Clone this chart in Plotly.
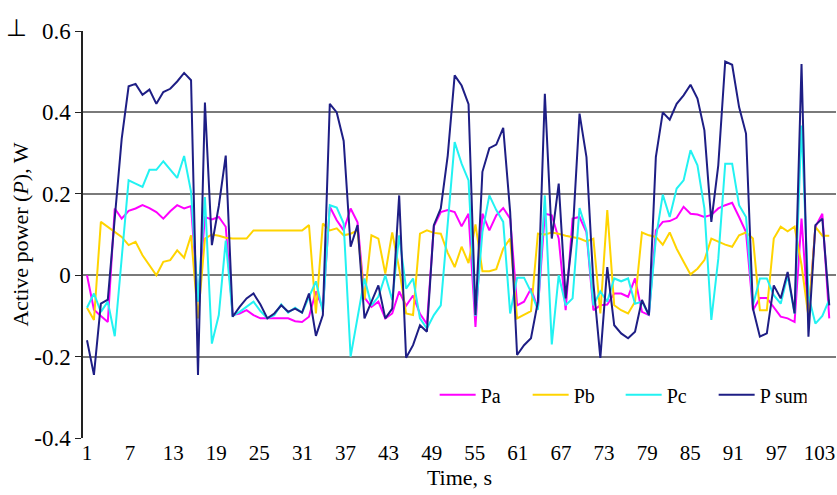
import plotly.graph_objects as go

# ---- data ----
pa = [0.0, -0.085, -0.1, -0.115, 0.164, 0.139, 0.158, 0.164, 0.172, 0.165,
      0.155, 0.139, 0.157, 0.172, 0.164, 0.17, -0.065, 0.143, 0.137, 0.143,
      0.119, -0.098, -0.094, -0.086, -0.098, -0.106, -0.106, -0.106, -0.106, -0.106,
      -0.113, -0.115, -0.102, -0.04, -0.082, 0.168, 0.135, 0.11, 0.164, 0.13,
      -0.055, -0.078, -0.065, -0.106, -0.094, -0.04, -0.075, -0.05, -0.095, -0.12,
      0.12, 0.155, 0.16, 0.155, 0.12, 0.151, -0.127, 0.151, 0.11, 0.147,
      0.165, 0.139, -0.074, -0.065, -0.033, -0.082, 0.151, 0.147, 0.09, -0.086,
      0.139, 0.143, 0.105, -0.086, -0.074, -0.072, -0.045, -0.045, -0.053, -0.008,
      -0.09, -0.098, 0.11, 0.131, 0.133, 0.141, 0.168, 0.151, 0.149, 0.143,
      0.148, 0.164, 0.172, 0.178, 0.143, 0.106, -0.086, -0.056, -0.056, -0.078,
      -0.102, -0.106, -0.115, 0.139, -0.106, 0.119, 0.151, -0.106]

pb = [-0.08, -0.11, 0.131, 0.119, 0.106, 0.094, 0.074, 0.082, 0.049, 0.025,
      0.0, 0.033, 0.037, 0.061, 0.043, 0.098, -0.106, 0.09, 0.1, 0.097,
      0.092, 0.09, 0.09, 0.09, 0.11, 0.11, 0.11, 0.11, 0.11, 0.11,
      0.11, 0.11, 0.123, -0.094, 0.127, 0.11, 0.115, 0.098, 0.102, 0.11,
      -0.06, 0.098, 0.09, 0.004, 0.105, 0.016, -0.094, -0.098, 0.102, 0.11,
      0.104, 0.102, 0.055, 0.02, 0.07, 0.03, 0.125, 0.01, 0.01, 0.015,
      0.065, 0.09, -0.106, -0.098, -0.088, 0.102, 0.1, 0.105, 0.102, 0.097,
      0.094, 0.09, 0.083, 0.09, -0.094, 0.16, -0.074, -0.086, -0.094, -0.065,
      0.105, 0.098, 0.094, 0.075, 0.105, 0.065, 0.033, 0.002, 0.016, 0.037,
      0.09, 0.082, 0.075, 0.07, 0.098, 0.105, 0.09, -0.086, -0.086, 0.09,
      0.119, 0.108, 0.119, 0.025, -0.102, 0.119, 0.097, 0.097]

pc = [-0.08, -0.045, -0.09, -0.065, -0.15, 0.04, 0.233, 0.225, 0.217, 0.259,
      0.259, 0.28, 0.258, 0.239, 0.293, 0.205, -0.065, 0.192, -0.168, -0.098,
      0.085, -0.1, -0.09, -0.077, -0.065, -0.088, -0.106, -0.098, -0.072, -0.092,
      -0.08, -0.092, -0.053, -0.015, -0.09, 0.172, 0.166, 0.127, -0.2, -0.106,
      -0.008, -0.074, -0.053, 0.0, -0.061, 0.098, -0.033, -0.008, -0.106, -0.131,
      -0.098, -0.074, 0.123, 0.327, 0.274, 0.233, -0.1, 0.106, 0.196, 0.16,
      0.131, -0.094, -0.006, -0.006, -0.041, -0.085, 0.196, -0.17, 0.0, -0.074,
      -0.057, 0.165, 0.11, -0.074, -0.04, -0.065, -0.008, -0.015, -0.008, -0.07,
      -0.065, -0.098, 0.09, 0.198, 0.143, 0.213, 0.233, 0.307, 0.27, 0.164,
      -0.11, 0.04, 0.274, 0.274, 0.172, 0.143, -0.074, -0.008, -0.008, -0.049,
      -0.07, 0.0, -0.094, 0.368, -0.05, -0.119, -0.1, -0.06]

psum = [-0.16, -0.245, -0.07, -0.06, 0.14, 0.335, 0.464, 0.47, 0.443, 0.456,
        0.421, 0.45, 0.458, 0.476, 0.497, 0.479, -0.245, 0.424, 0.074, 0.17,
        0.294, -0.102, -0.078, -0.057, -0.045, -0.072, -0.106, -0.094, -0.074, -0.09,
        -0.082, -0.092, -0.045, -0.149, -0.098, 0.421, 0.40, 0.33, 0.07, 0.123,
        -0.106, -0.065, -0.025, -0.106, -0.082, 0.196, -0.203, -0.172, -0.123, -0.139,
        0.123, 0.164, 0.294, 0.491, 0.466, 0.42, -0.098, 0.254, 0.312, 0.321,
        0.362, 0.155, -0.196, -0.172, -0.155, -0.065, 0.446, 0.09, 0.225, -0.057,
        0.098, 0.397, 0.29, -0.02, -0.203, 0.02, -0.123, -0.143, -0.155, -0.139,
        -0.061, -0.098, 0.29, 0.40, 0.382, 0.421, 0.442, 0.468, 0.434, 0.356,
        0.131, 0.27, 0.525, 0.517, 0.413, 0.348, -0.082, -0.151, -0.143, -0.025,
        -0.057, 0.008, -0.094, 0.519, -0.151, 0.123, 0.139, -0.074]

series_names = ["Pa", "Pb", "Pc", "P sum"]
x_tick_labels = ["1", "7", "13", "19", "25", "31", "37", "43", "49", "55",
                 "61", "67", "73", "79", "85", "91", "97", "103"]
y_tick_values = [-0.4, -0.2, 0, 0.2, 0.4, 0.6]
y_tick_labels = ["-0.4", "-0.2", "0", "0.2", "0.4", "0.6"]

SAMPLE_DT = 0.966  # seconds between samples
time = [1 + k * SAMPLE_DT for k in range(len(psum))]

colors = ["#FF00FF", "#FFD400", "#22F2F2", "#1E1E85"]
FONT = "Liberation Serif"

fig = go.Figure()
for name, ys, c in zip(series_names, [pa, pb, pc, psum], colors):
    fig.add_trace(go.Scatter(x=time, y=ys, mode="lines", name=name,
                             line=dict(color=c, width=2)))

fig.update_layout(
    width=837, height=495,
    margin=dict(l=83, r=1, t=31, b=57),
    paper_bgcolor="white", plot_bgcolor="white",
    font=dict(family=FONT, color="black", size=21),
    showlegend=True,
    legend=dict(orientation="h", x=0.467, y=0.106, xanchor="left", yanchor="middle",
                font=dict(family=FONT, size=20), bgcolor="rgba(0,0,0,0)",
                entrywidth=42, itemwidth=36),
    annotations=[dict(text="⊥", xref="paper", yref="paper", x=-0.088, y=1.008,
                      xanchor="center", yanchor="middle", showarrow=False,
                      font=dict(family=FONT, size=24, color="black"))],
)
fig.update_xaxes(
    range=[0.443, 105.3],
    tickvals=[int(t) for t in x_tick_labels], ticktext=x_tick_labels,
    showgrid=False, zeroline=False, showline=False, ticks="",
    tickfont=dict(family=FONT, size=21),
    title=dict(text="Time, s", font=dict(family=FONT, size=22), standoff=4),
)
fig.update_yaxes(
    range=[-0.4, 0.6],
    tickvals=y_tick_values, ticktext=y_tick_labels,
    showgrid=True, gridcolor="#7a7a7a", gridwidth=1.5,
    zeroline=True, zerolinecolor="#7a7a7a", zerolinewidth=1.5,
    showline=True, linecolor="#222", linewidth=1.5,
    ticks="outside", ticklen=6, tickcolor="#222",
    tickfont=dict(family=FONT, size=23),
    title=dict(text="Active power (<i>P</i>), W", font=dict(family=FONT, size=22), standoff=0),
)

fig.write_html("out.html", config={"displayModeBar": False},
               post_script="document.body.style.margin='0';")
